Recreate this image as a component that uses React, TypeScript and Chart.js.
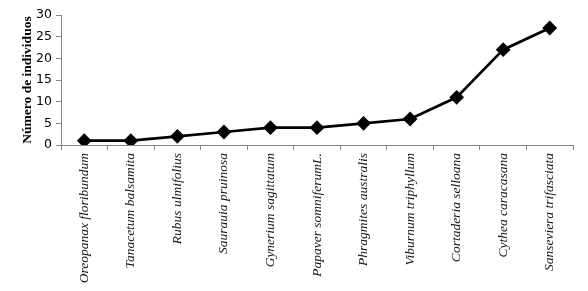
import React, { useEffect, useRef } from "react";
import { Chart, registerables } from "chart.js";
Chart.register(...registerables);

const categories = [
  "Oreopanax floribundum",
  "Tanacetum balsamita",
  "Rubus ulmifolius",
  "Saurauia pruinosa",
  "Gynerium sagittatum",
  "Papaver somniferumL.",
  "Phragmites australis",
  "Viburnum triphyllum",
  "Cortaderia selloana",
  "Cythea caracasana",
  "Sanseviera trifasciata",
];
const values = [1, 1, 2, 3, 4, 4, 5, 6, 11, 22, 27];
const yTitle = "Número de individuos";

export default function App() {
  const ref = useRef<HTMLCanvasElement>(null);
  useEffect(() => {
    document.body.style.margin = "0";
    const chart = new Chart(ref.current!, {
      type: "line",
      data: {
        labels: categories,
        datasets: [
          {
            data: values,
            borderColor: "#000",
            backgroundColor: "#000",
            borderWidth: 2.7,
            pointStyle: "rectRot",
            pointRadius: 5.5,
            pointBackgroundColor: "#000",
            pointBorderColor: "#000",
            tension: 0,
          },
        ],
      },
      options: {
        animation: false,
        responsive: false,
        layout: { padding: { top: 15, right: 15, left: 0, bottom: 0 } },
        plugins: { legend: { display: false }, tooltip: { enabled: false } },
        scales: {
          x: {
            offset: true,
            grid: {
              offset: true,
              drawOnChartArea: false,
              drawTicks: true,
              tickLength: 5,
              color: "#868686",
            },
            border: { color: "#868686", width: 1 },
            ticks: {
              autoSkip: false,
              minRotation: 90,
              maxRotation: 90,
              padding: 3,
              color: "#111",
              font: { family: "Liberation Serif", style: "italic", size: 13.5 },
            },
            afterFit: (s: any) => {
              s.height = 146;
            },
          },
          y: {
            min: 0,
            max: 30,
            ticks: {
              stepSize: 5,
              padding: 4,
              color: "#000",
              font: { family: "DejaVu Sans", size: 12.5 },
            },
            grid: {
              drawOnChartArea: false,
              drawTicks: true,
              tickLength: 5,
              color: "#868686",
            },
            border: { color: "#868686", width: 1 },
            title: {
              display: true,
              text: yTitle,
              color: "#000",
              font: { family: "Liberation Serif", weight: "bold", size: 13.5 },
              padding: { top: 19, bottom: 0 },
            },
            afterFit: (s: any) => {
              s.width = 61;
            },
          },
        },
      },
    });
    return () => chart.destroy();
  }, []);
  return <canvas ref={ref} width={588} height={291} style={{ display: "block" }} />;
}
